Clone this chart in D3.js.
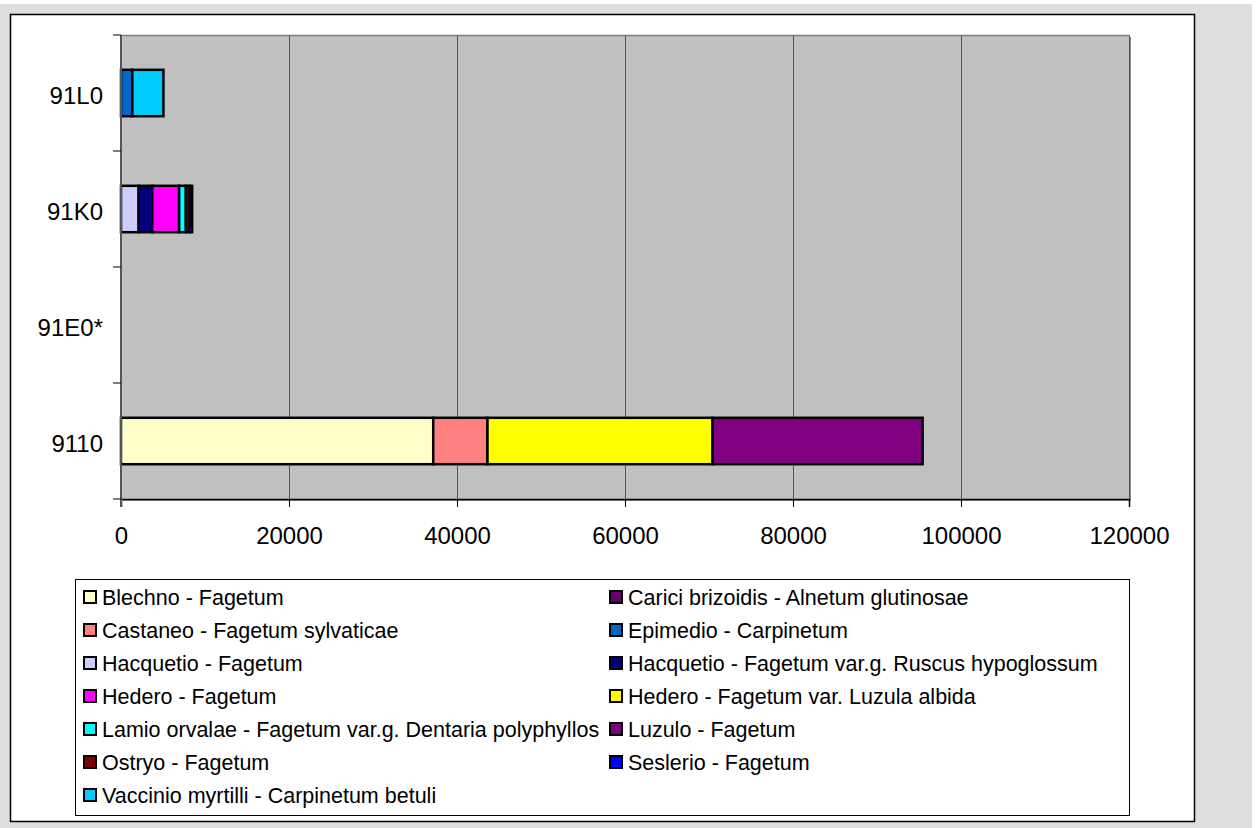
<!DOCTYPE html>
<html>
<head>
<meta charset="utf-8">
<script src="https://cdn.jsdelivr.net/npm/d3@7"></script>
<style>
  html, body { margin: 0; padding: 0; background: #ffffff; }
  svg text { font-family: "Liberation Sans", Arial, sans-serif; fill: #000; }
</style>
</head>
<body>
<svg id="chart" width="1260" height="828"></svg>
<script>
// Habitat types (bottom to top on the chart)
const categories = ["9110", "91E0*", "91K0", "91L0"];

// Plant associations (stacking and legend order)
const seriesNames = [
  "Blechno - Fagetum",
  "Carici brizoidis - Alnetum glutinosae",
  "Castaneo - Fagetum sylvaticae",
  "Epimedio - Carpinetum",
  "Hacquetio - Fagetum",
  "Hacquetio - Fagetum var.g. Ruscus hypoglossum",
  "Hedero - Fagetum",
  "Hedero - Fagetum var. Luzula albida",
  "Lamio orvalae - Fagetum var.g. Dentaria polyphyllos",
  "Luzulo - Fagetum",
  "Ostryo - Fagetum",
  "Seslerio - Fagetum",
  "Vaccinio myrtilli - Carpinetum betuli"
];

const seriesColors = [
  "#FFFFCC", "#660066", "#FF8080", "#0066CC", "#CCCCFF", "#000080",
  "#FF00FF", "#FFFF00", "#00FFFF", "#800080", "#800000", "#0000FF", "#00CCFF"
];

// Area per association, one value per category: [9110, 91E0*, 91K0, 91L0]
const blechno        = [37170, 0, 0, 0];
const carici         = [0, 0, 0, 0];
const castaneo       = [6460, 0, 0, 0];
const epimedio       = [0, 0, 0, 1350];
const hacquetio      = [0, 0, 2100, 0];
const hacquetioVar   = [0, 0, 1620, 0];
const hedero         = [0, 0, 3200, 0];
const hederoVar      = [26800, 0, 0, 0];
const lamio          = [0, 0, 800, 0];
const luzulo         = [25000, 0, 0, 0];
const ostryo         = [0, 0, 450, 0];
const seslerio       = [0, 0, 300, 0];
const vaccinio       = [0, 0, 0, 3700];

const seriesValues = [blechno, carici, castaneo, epimedio, hacquetio, hacquetioVar,
  hedero, hederoVar, lamio, luzulo, ostryo, seslerio, vaccinio];

const xTicks = [0, 20000, 40000, 60000, 80000, 100000, 120000];

const svg = d3.select("#chart");

// page and chart-area frame
svg.append("rect").attr("x", 0).attr("y", 4).attr("width", 1252).attr("height", 824).attr("fill", "#DEDEDE");
svg.append("rect").attr("x", 10.5).attr("y", 14.5).attr("width", 1184).attr("height", 807)
  .attr("fill", "#ffffff").attr("stroke", "#000").attr("stroke-width", 1.5);

const plot = { left: 121, top: 35, right: 1129, bottom: 499 };

const x = d3.scaleLinear().domain([0, 120000]).range([plot.left, plot.right]);
const y = d3.scaleBand().domain(categories.slice().reverse())
  .range([plot.top, plot.bottom]).paddingInner(0.6).paddingOuter(0.3);
const yBand = d3.scaleBand().domain(categories.slice().reverse()).range([plot.top, plot.bottom]);

// plot area with a soft shadow on the right and bottom
svg.append("rect").attr("x", plot.left + 2).attr("y", plot.top + 2)
  .attr("width", plot.right - plot.left).attr("height", plot.bottom - plot.top).attr("fill", "#8c8c8c");
svg.append("rect").attr("x", plot.left).attr("y", plot.top)
  .attr("width", plot.right - plot.left).attr("height", plot.bottom - plot.top).attr("fill", "#C0C0C0");
svg.append("line").attr("x1", plot.left).attr("x2", plot.right).attr("y1", plot.top + 0.5).attr("y2", plot.top + 0.5)
  .attr("stroke", "#808080").attr("stroke-width", 1.5);

// vertical gridlines
svg.append("g").selectAll("line").data(xTicks.slice(1)).join("line")
  .attr("x1", d => Math.round(x(d)) + 0.5).attr("x2", d => Math.round(x(d)) + 0.5)
  .attr("y1", plot.top).attr("y2", plot.bottom)
  .attr("stroke", "#555").attr("stroke-width", 1);

// stacked bars
const table = categories.map((c, i) => {
  const row = { category: c };
  seriesNames.forEach((s, j) => { row[s] = seriesValues[j][i]; });
  return row;
});
const stacked = d3.stack().keys(seriesNames)(table);

const bars = svg.append("g");
stacked.forEach((layer, j) => {
  bars.append("g").attr("fill", seriesColors[j])
    .selectAll("rect").data(layer.filter(d => d[1] - d[0] > 0)).join("rect")
    .attr("x", d => x(d[0]))
    .attr("y", d => y(d.data.category))
    .attr("width", d => x(d[1]) - x(d[0]))
    .attr("height", y.bandwidth())
    .attr("stroke", "#000").attr("stroke-width", 2.5);
});

// x axis
const xAxis = svg.append("g").attr("transform", `translate(0,${plot.bottom})`)
  .call(d3.axisBottom(x).tickValues(xTicks).tickFormat(d3.format("d")).tickSize(8).tickPadding(20));
xAxis.select(".domain").attr("stroke", "#000").attr("stroke-width", 1.5);
xAxis.selectAll(".tick line").attr("stroke", "#000");
xAxis.selectAll("text").attr("font-size", 24).attr("font-family", "Liberation Sans, Arial, sans-serif");

// y axis: labels centred in each band, ticks at band boundaries
const yAxisG = svg.append("g");
yAxisG.append("line").attr("x1", plot.left).attr("x2", plot.left).attr("y1", plot.top).attr("y2", plot.bottom + 8)
  .attr("stroke", "#555").attr("stroke-width", 2);
const bounds = yBand.domain().map(c => yBand(c)).concat([plot.bottom]);
yAxisG.selectAll("line.tick").data(bounds).join("line").attr("class", "tick")
  .attr("x1", plot.left - 8).attr("x2", plot.left).attr("y1", d => d).attr("y2", d => d)
  .attr("stroke", "#000").attr("stroke-width", 1);
yAxisG.selectAll("text").data(categories).join("text")
  .attr("x", plot.left - 18)
  .attr("y", d => yBand(d) + yBand.bandwidth() / 2 + 3)
  .attr("dy", "0.35em").attr("text-anchor", "end").attr("font-size", 24)
  .text(d => d);

// legend
const legend = { left: 75, top: 579, right: 1129, bottom: 815 };
svg.append("rect").attr("x", legend.left + 0.5).attr("y", legend.top + 0.5)
  .attr("width", legend.right - legend.left).attr("height", legend.bottom - legend.top)
  .attr("fill", "#fff").attr("stroke", "#000").attr("stroke-width", 1);
const colX = [84, 610];
const rowY0 = 597, rowStep = 33;
const items = svg.append("g").selectAll("g").data(seriesNames).join("g")
  .attr("transform", (d, i) => `translate(${colX[i % 2]},${rowY0 + Math.floor(i / 2) * rowStep})`);
items.append("rect").attr("x", 0).attr("y", -6).attr("width", 12).attr("height", 12)
  .attr("fill", (d, i) => seriesColors[i]).attr("stroke", "#000").attr("stroke-width", 2);
items.append("text").attr("x", 18).attr("dy", "0.35em").attr("font-size", 21.5).text(d => d);
</script>
</body>
</html>
